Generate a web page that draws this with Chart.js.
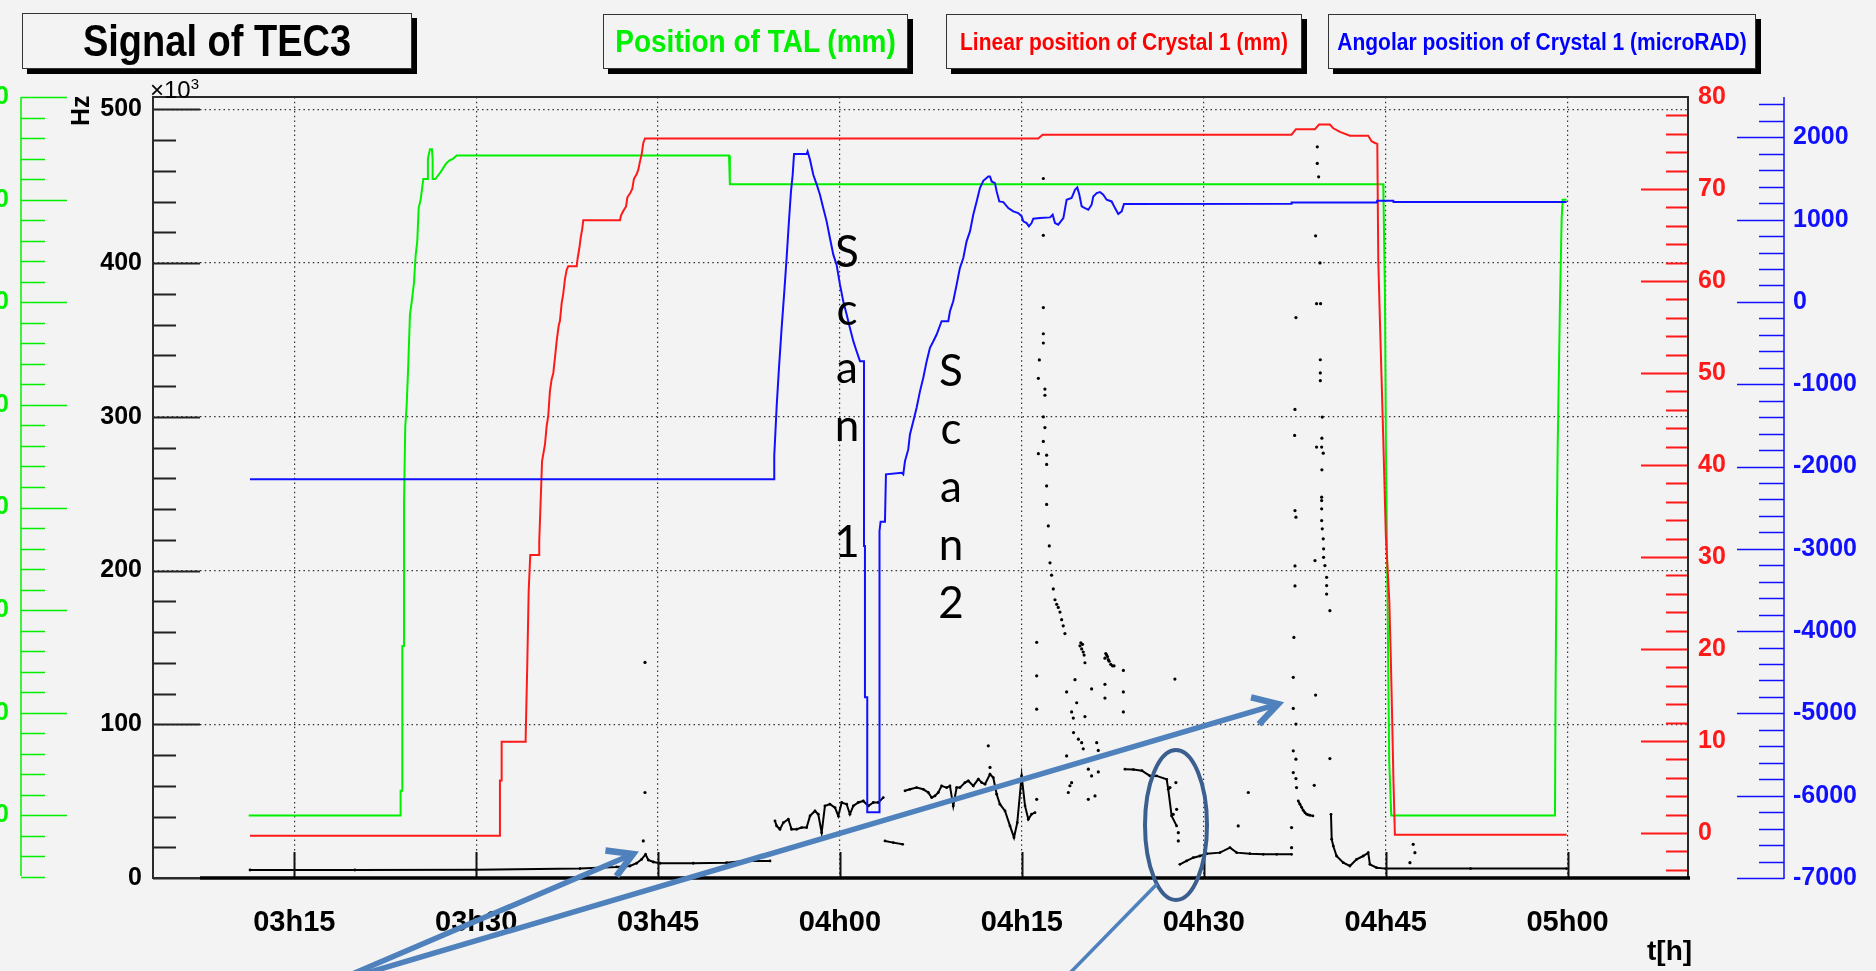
<!DOCTYPE html>
<html>
<head>
<meta charset="utf-8">
<script src="https://cdn.jsdelivr.net/npm/chart.js@4.4.1/dist/chart.umd.min.js"></script>
<style>
html, body { margin: 0; padding: 0; background: #f3f3f3; }
#wrap { position: relative; width: 1876px; height: 971px; overflow: hidden; background: #f3f3f3; font-family: 'Liberation Sans', Arial, sans-serif; }
#c { position: absolute; left: -20px; top: 0; }
.box { position: absolute; border: 1px solid #333; background: #f3f3f3; box-shadow: 5px 5px 0 #000; display: flex; align-items: center; justify-content: center; font-weight: bold; white-space: nowrap; }
.box span { display: inline-block; transform: scaleY(1.15); }
.lbl { position: absolute; white-space: nowrap; }
.scan { position: absolute; font-family: Lato, 'Open Sans', sans-serif; font-size: 44px; line-height: 58px; text-align: center; width: 40px; color: #000; }
svg { position: absolute; left: 0; top: 0; }
</style>
</head>
<body>
<div id="wrap">
  <canvas id="c" width="1896" height="971" style="width:1896px;height:971px"></canvas>

  <div class="box" style="left:22px;top:13px;width:388px;height:54px;font-size:38px;color:#000;"><span>Signal of TEC3</span></div>
  <div class="box" style="left:603px;top:14px;width:303px;height:53px;font-size:28px;color:#00f000;"><span>Position of TAL (mm)</span></div>
  <div class="box" style="left:946px;top:14px;width:354px;height:53px;font-size:21px;color:#ff0000;"><span>Linear position of Crystal 1 (mm)</span></div>
  <div class="box" style="left:1328px;top:14px;width:426px;height:53px;font-size:21px;color:#0000ff;"><span>Angolar position of Crystal 1 (microRAD)</span></div>

  <div class="lbl" style="left:150px;top:72px;font-size:24px;line-height:24px;">&times;10<sup style="font-size:15px;">3</sup></div>
  <div class="lbl" style="left:64px;top:98px;font-size:25px;font-weight:bold;transform:rotate(-90deg);transform-origin:15px 13px;">Hz</div>
  <div class="lbl" style="left:1647px;top:935px;font-size:28px;font-weight:bold;">t[h]</div>

  <div class="scan" style="left:827px;top:221px;">S<br>c<br>a<br>n<br>&nbsp;<br>1</div>
  <div class="scan" style="left:931px;top:340px;">S<br>c<br>a<br>n<br>2</div>

  <svg width="1876" height="971" viewBox="0 0 1876 971">
    <defs>
      <marker id="head" markerUnits="userSpaceOnUse" markerWidth="44" markerHeight="44" refX="30" refY="22" orient="auto">
        <path d="M6,8 L30,22 L6,36" fill="none" stroke="#4f81bd" stroke-width="6.5" stroke-linejoin="miter"/>
      </marker>
    </defs>
    <line x1="350" y1="975" x2="633" y2="854" stroke="#4f81bd" stroke-width="5.5" marker-end="url(#head)"/>
    <line x1="360" y1="975" x2="1278" y2="704" stroke="#4f81bd" stroke-width="5.5" marker-end="url(#head)"/>
    <ellipse cx="1176" cy="825" rx="31" ry="75" fill="none" stroke="#3b5f8f" stroke-width="4"/>
    <line x1="1068" y1="975" x2="1157" y2="884" stroke="#4f81bd" stroke-width="3.5"/>
  </svg>
</div>

<script>
// time axis: minutes after 03h00
const xTickValues = [15, 30, 45, 60, 75, 90, 105, 120];
const xTickLabels = ['03h15', '03h30', '03h45', '04h00', '04h15', '04h30', '04h45', '05h00'];
const hzTicks = [0, 100, 200, 300, 400, 500];
const talTicks = [0, 10, 20, 30, 40, 50, 60, 70];
const linTicks = [0, 10, 20, 30, 40, 50, 60, 70, 80];
const angTicks = [-7000, -6000, -5000, -4000, -3000, -2000, -1000, 0, 1000, 2000];

// Position of TAL (mm)
const talTime = [11.24, 23.77, 23.77, 23.91, 23.91, 24.05, 24.05, 24.15, 24.27, 24.40, 24.54, 24.68, 24.87, 25.01, 25.14, 25.26, 25.42, 25.64, 26.02, 26.02, 26.19, 26.35, 26.41, 26.41, 26.63, 26.96, 27.24, 27.51, 27.78, 28.11, 28.39, 50.85, 50.92, 104.80, 104.82, 104.94, 105.02, 105.16, 105.29, 105.46, 118.96, 119.01, 119.10, 119.18, 119.37, 119.51, 119.59, 119.92];
const talPos = [0, 0, 2.4, 2.4, 16.5, 16.5, 30.5, 37.8, 40.0, 43.9, 48.8, 50.0, 51.9, 54.6, 55.9, 59.2, 60.0, 62.0, 62.0, 64.0, 64.9, 64.9, 64.0, 62.0, 62.0, 62.5, 63.0, 63.5, 63.8, 64.0, 64.3, 64.3, 61.5, 61.5, 60.1, 50.8, 35.6, 20.5, 5.3, 0, 0, 12.2, 26.4, 35.6, 49.7, 58.1, 60.0, 60.0];

// Linear position of Crystal 1 (mm)
const linTime = [11.35, 31.96, 31.96, 32.10, 32.10, 34.08, 34.08, 34.21, 34.33, 34.46, 35.20, 35.20, 35.34, 35.43, 35.67, 35.81, 35.94, 36.08, 36.22, 36.36, 36.50, 36.64, 36.80, 36.91, 37.05, 37.18, 37.32, 37.46, 37.59, 38.29, 38.37, 38.50, 38.62, 38.75, 38.83, 41.86, 41.94, 42.13, 42.36, 42.47, 42.68, 42.87, 43.01, 43.23, 43.37, 43.51, 43.65, 43.78, 43.92, 76.35, 76.71, 97.24, 97.60, 99.17, 99.50, 100.40, 100.68, 101.23, 102.05, 103.56, 103.84, 104.11, 104.31, 104.39, 104.53, 104.66, 104.80, 105.02, 105.30, 105.43, 105.54, 105.63, 105.76, 119.92];
const linPos = [-0.3, -0.3, 5.7, 5.7, 9.9, 9.9, 10.3, 18.1, 26.3, 30.2, 30.2, 31.7, 36.9, 40.4, 42.2, 44.2, 45.3, 48.0, 49.3, 50.0, 51.7, 53.5, 55.1, 55.7, 57.6, 58.6, 60.2, 61.2, 61.6, 61.6, 62.5, 63.5, 64.7, 65.7, 66.6, 66.6, 67.1, 67.6, 68.1, 69.1, 69.5, 70.0, 71.1, 71.6, 72.1, 73.0, 73.8, 75.0, 75.5, 75.5, 75.9, 75.9, 76.5, 76.5, 77.0, 77.0, 76.6, 76.2, 75.8, 75.8, 75.2, 75.0, 74.9, 62.2, 55.5, 49.5, 42.9, 32.1, 25.2, 18.6, 12.1, 6.3, -0.2, -0.2];

// Angolar position of Crystal 1 (microRAD)
const angTime = [11.35, 54.58, 54.58, 54.78, 54.97, 55.19, 55.41, 55.60, 55.79, 55.96, 56.10, 56.21, 57.25, 57.33, 57.53, 57.80, 58.07, 58.35, 58.62, 58.90, 59.17, 59.45, 59.72, 60.00, 60.27, 60.55, 60.82, 61.10, 61.37, 61.65, 61.98, 61.98, 62.06, 62.06, 62.25, 62.25, 63.22, 63.22, 63.30, 63.35, 63.71, 63.79, 65.09, 65.22, 65.36, 65.63, 65.77, 66.05, 66.32, 66.60, 66.87, 67.15, 67.42, 67.70, 67.97, 68.38, 68.93, 69.07, 69.34, 69.62, 69.89, 70.17, 70.44, 70.72, 70.99, 71.27, 71.54, 71.82, 72.23, 72.37, 72.51, 72.78, 72.92, 73.14, 73.47, 73.88, 74.29, 74.70, 74.98, 75.12, 75.39, 75.58, 75.80, 75.94, 76.49, 77.32, 77.54, 77.73, 78.00, 78.42, 78.69, 79.10, 79.38, 79.57, 79.74, 79.93, 80.20, 80.48, 80.75, 80.89, 81.17, 81.44, 81.71, 81.99, 82.40, 82.68, 82.95, 83.23, 83.42, 97.24, 97.24, 104.26, 104.30, 105.63, 105.65, 119.92];
const angPos = [-2156, -2156, -1873, -1266, -801, -316, 129, 534, 979, 1343, 1545, 1796, 1796, 1828, 1727, 1545, 1432, 1302, 1140, 979, 776, 574, 453, 210, 8, -154, -316, -477, -599, -720, -720, -2965, -2965, -4805, -4805, -6201, -6201, -5695, -2783, -2670, -2670, -2095, -2075, -2095, -1934, -1792, -1610, -1448, -1286, -1084, -922, -720, -558, -477, -396, -235, -235, -113, 8, 210, 413, 534, 736, 857, 1060, 1221, 1383, 1472, 1525, 1525, 1464, 1444, 1343, 1221, 1213, 1140, 1100, 1080, 1039, 979, 958, 918, 958, 1011, 1019, 1027, 1060, 958, 938, 1019, 1242, 1262, 1363, 1391, 1302, 1161, 1140, 1120, 1181, 1282, 1322, 1335, 1302, 1242, 1221, 1140, 1068, 1100, 1189, 1193, 1209, 1209, 1229, 1229, 1214, 1214];

// Signal of TEC3 (kHz): dense runs (null = gap)
const tecTime = [11.35, 20, 30, 38.56, 41.58, 42.68, 43.23, 43.64, 43.97, 44.19, 44.61, 45.16, 47.9, 50.65, 52.03, 54.23, null,
  54.64, 54.78, 55.05, 55.33, 55.74, 56.01, 56.43, 56.84, 57.25, 57.53, 57.94, 58.21, 58.49, 58.76, 59.17, 59.59, 59.86, 60.14, 60.55, 60.82, 61.10, 61.51, 61.92, 62.34, 62.75, 63.16, 63.57, null,
  63.71, 64.40, 65.17, null,
  65.36, 65.77, 66.32, 66.87, 67.28, 67.56, 67.83, 68.11, 68.38, 68.80, 69.07, 69.34, 69.62, 69.89, 70.31, 70.58, 70.99, 71.41, 71.68, 71.96, 72.37, 72.64, 72.92, 73.19, 73.61, 74.02, 74.35, 74.62, 74.98, 75.26, 75.53, 75.80, 76.08, null,
  83.50, 84.20, 84.90, 85.56, 86.11, 86.94, 87.07, 87.35, 87.76, null,
  88.03, 88.58, 89.13, 89.68, 90.23, 91.33, 92.16, 92.71, 93.81, 94.91, 96.01, 97.24, null,
  97.79, 97.93, 98.07, 98.20, 98.34, 98.48, 98.62, 98.75, 99.00, null,
  100.49, 100.55, 100.68, 100.95, 101.50, 102.05, 102.60, 103.15, 103.56, 103.70, 104.25, 105.00, 112.00, 119.92];
const tecRate = [5.2, 5.2, 5.3, 6.1, 7.2, 7.8, 9.6, 12.1, 15.4, 11.7, 10.4, 9.6, 9.6, 10.0, 11.1, 11.1, null,
  37.1, 33.9, 31.7, 36.0, 38.2, 31.7, 31.7, 32.8, 32.8, 40.4, 43.6, 41.5, 29.5, 46.9, 48.0, 45.8, 40.4, 49.1, 48.0, 41.5, 46.9, 49.1, 50.1, 46.9, 49.1, 49.1, 52.3, null,
  24.1, 23.0, 21.9, null,
  56.7, 57.7, 58.8, 57.7, 55.6, 52.3, 53.4, 55.6, 59.9, 58.8, 59.9, 46.9, 58.8, 58.8, 62.1, 63.2, 59.9, 64.3, 62.1, 61.0, 67.5, 65.3, 54.5, 48.0, 43.6, 33.9, 26.3, 36.0, 66.4, 46.9, 38.2, 41.5, 42.5, null,
  70.8, 70.5, 69.8, 66.4, 66.4, 64.2, 57.7, 40.4, 33.9, null,
  8.9, 11.1, 13.2, 14.3, 15.8, 16.5, 19.7, 16.5, 15.8, 15.4, 15.4, 15.4, null,
  50.1, 48.0, 46.0, 44.0, 42.5, 41.5, 41.0, 40.8, 40.4, null,
  41.4, 25.2, 20.8, 14.3, 10.0, 7.8, 12.1, 14.3, 16.5, 8.9, 6.7, 6.1, 6.1, 6.1];

// Signal of TEC3 (kHz): isolated readings
const tecDotTime = [43.92, 43.92, 43.78, 72.23, 72.37, 76.22, 76.22, 76.22, 76.22,
  76.77, 76.77, 76.77, 76.77, 76.77, 76.44, 76.36, 76.90, 76.90, 76.77, 76.90, 76.77, 76.36, 77.04, 77.04, 77.04, 77.04, 77.18, 77.26, 77.32, 77.45, 77.59, 77.73, 77.87, 78.00, 78.14, 78.28, 78.41, 78.55,
  79.79, 79.86, 79.93, 80.00, 80.06, 80.13, 80.20, 81.85, 81.92, 81.99, 82.06, 82.13, 82.20, 82.33, 82.47, 82.60,
  78.69, 79.10, 79.24, 79.52, 79.38, 80.20, 80.75, 79.26, 79.66, 79.93, 80.06, 78.69, 80.48, 80.75, 78.83, 78.96, 79.10, 80.48, 81.03, 81.85, 81.85, 83.37, 83.37, 83.37, 81.17, 81.30, 81.30,
  87.62, 87.21, 87.48, 87.70, 87.76, 87.90, 87.90, 92.84, 93.67,
  97.52, 97.60, 97.52, 97.52, 97.43, 97.38, 97.38, 97.60, 97.38, 97.60, 97.38, 97.60, 97.65, 97.24, 97.24, 97.60, 97.52, 97.49,
  99.36, 99.36, 99.47, 99.22, 99.58, 99.30, 99.63, 99.61, 99.61, 99.61, 99.77, 99.74, 99.30, 99.72, 99.85, 99.74, 99.72, 99.72, 99.72, 99.72, 99.77, 99.85, 99.88, 99.88, 99.99, 100.13, 100.13, 100.13, 100.40, 99.17, 99.22, 99.11, 100.40,
  107.00, 107.27, 107.41];
const tecDotRate = [140.2, 55.6, 24.1, 86.0, 71.9, 153.3, 131.5, 109.8, 51.2,
  455, 418, 371, 354, 348, 337, 325, 318, 314, 300, 293, 284, 276, 275, 269, 255, 243, 229, 216, 205, 197, 188, 181, 178, 176, 173, 168, 164, 159,
  151, 153, 149, 152, 147, 145, 140, 143, 146, 145, 144, 142, 141, 139, 138, 138,
  121, 108, 104, 114, 129, 105, 123, 94.6, 90.3, 88, 84, 79.4, 70.8, 66.4, 55.6, 60, 62, 51.2, 53.4, 126, 117, 121, 108, 135, 88, 83, 69,
  129.4, 58.8, 41.4, 62.1, 44.7, 29.5, 24.1, 33.9, 55.6,
  239, 234.7, 203, 190, 156.5, 130.5, 110.3, 100.1, 82.7, 77.3, 68.6, 64.7, 58.8, 32.8, 19.7, 364.5, 304.8, 287.9,
  475.6, 464.8, 456.1, 417.7, 400.1, 373.6, 373.6, 337.1, 328.5, 323.5, 299.8, 286.1, 280.3, 280.3, 276.3, 265.5, 247.7, 245.5, 240.1, 232.5, 227.1, 220.6, 214.1, 208.6, 203.2, 195.6, 190.2, 184.7, 173.9, 206.5, 119, 60.3, 77.7,
  10, 21.9, 16.5];

function pts(ts, vs) {
    return ts.map((t, i) => ({ x: t, y: vs[i] }));
}

const FONT = 'Liberation Sans';
const GREEN = '#00f000';
const RED = '#ff1a1a';
const BLUE = '#1010ff';

function setTicks(values) {
    return scale => { scale.ticks = values.map(v => ({ value: v })); };
}
function fixWidth(w) {
    return scale => { scale.width = w; };
}

// ROOT style tick marks, axis lines and frame
const rootAxes = {
    id: 'rootAxes',
    afterDatasetsDraw(chart) {
        const { ctx, chartArea: a, scales: s } = chart;
        ctx.save();
        const marks = (scale, from, to, step, major, x0, dir, longLen, shortLen, color, width) => {
            ctx.strokeStyle = color;
            ctx.lineWidth = width;
            ctx.beginPath();
            for (let v = from; v <= to + 1e-6; v += step) {
                const y = Math.round(scale.getPixelForValue(v)) + 0.5;
                const len = Math.abs(v % major) < 1e-6 ? longLen : shortLen;
                ctx.moveTo(x0, y);
                ctx.lineTo(x0 + dir * len, y);
            }
            ctx.stroke();
        };
        // left black axis, ticks inside the frame
        marks(s.yHz, 0, 500, 20, 100, a.left, 1, 47, 23, '#222', 2);
        // red axis, ticks inside the frame on the right
        marks(s.yRed, -4, 78, 2, 10, a.right, -1, 47, 22, RED, 2);
        // green axis on the far left
        const gx = s.yGreen.left + 41;
        marks(s.yGreen, -6, 70, 2, 10, gx, 1, 46, 24, GREEN, 1.5);
        ctx.strokeStyle = GREEN; ctx.lineWidth = 1.5;
        ctx.beginPath(); ctx.moveTo(gx, a.top); ctx.lineTo(gx, a.bottom - 2); ctx.stroke();
        // blue axis on the far right
        const bx = s.yBlue.left + 41;
        marks(s.yBlue, -7000, 2400, 200, 1000, bx, -1, 47, 25, BLUE, 1.5);
        ctx.strokeStyle = BLUE; ctx.lineWidth = 1.5;
        ctx.beginPath(); ctx.moveTo(bx, a.top); ctx.lineTo(bx, a.bottom + 1); ctx.stroke();
        // time axis ticks
        ctx.strokeStyle = '#111'; ctx.lineWidth = 2;
        ctx.beginPath();
        xTickValues.forEach(v => {
            const x = Math.round(s.x.getPixelForValue(v)) + 0.5;
            ctx.moveTo(x, a.bottom); ctx.lineTo(x, a.bottom - 26);
        });
        ctx.stroke();
        // frame
        ctx.strokeStyle = '#2a2a2a'; ctx.lineWidth = 2;
        ctx.strokeRect(a.left, a.top, a.right - a.left, a.bottom - a.top);
        ctx.strokeStyle = '#000'; ctx.lineWidth = 3.5;
        ctx.beginPath(); ctx.moveTo(a.left + 47, a.bottom); ctx.lineTo(a.right + 2, a.bottom); ctx.stroke();
        ctx.restore();
    }
};

const lineStyle = { pointRadius: 0, borderWidth: 2, fill: false, tension: 0 };

new Chart(document.getElementById('c').getContext('2d'), {
    type: 'line',
    data: {
        datasets: [
            Object.assign({ label: 'Angolar position of Crystal 1 (microRAD)', data: pts(angTime, angPos), borderColor: BLUE, yAxisID: 'yBlue' }, lineStyle),
            Object.assign({ label: 'Linear position of Crystal 1 (mm)', data: pts(linTime, linPos), borderColor: RED, yAxisID: 'yRed' }, lineStyle),
            Object.assign({ label: 'Position of TAL (mm)', data: pts(talTime, talPos), borderColor: GREEN, yAxisID: 'yGreen' }, lineStyle),
            {
                label: 'Signal of TEC3', data: pts(tecTime, tecRate), yAxisID: 'yHz',
                borderColor: '#000', borderWidth: 2, pointRadius: 1.4, pointBackgroundColor: '#000',
                pointBorderWidth: 0, spanGaps: false, tension: 0
            },
            {
                label: 'Signal of TEC3 (single readings)', data: pts(tecDotTime, tecDotRate), yAxisID: 'yHz',
                showLine: false, pointRadius: 1.6, pointBackgroundColor: '#000', pointBorderWidth: 0
            }
        ]
    },
    options: {
        responsive: false,
        devicePixelRatio: 1,
        animation: false,
        layout: { padding: { top: 97, left: 0, right: 0, bottom: 0 } },
        plugins: { legend: { display: false }, tooltip: { enabled: false }, title: { display: false } },
        scales: {
            x: {
                type: 'linear', position: 'bottom', min: 3.35, max: 129.93,
                afterBuildTicks: setTicks(xTickValues),
                afterFit: scale => { scale.height = 93; },
                grid: { color: '#333', lineWidth: 1.2, drawTicks: false },
                border: { display: false, dash: [1.5, 3.2] },
                ticks: {
                    autoSkip: false, maxRotation: 0, padding: 28, color: '#000',
                    font: { family: FONT, size: 29, weight: 'bold' },
                    callback: (v, i) => xTickLabels[i]
                }
            },
            yHz: {
                type: 'linear', position: 'left', weight: 0, min: 0, max: 508,
                afterBuildTicks: setTicks(hzTicks),
                afterFit: fixWidth(91),
                grid: { color: '#333', lineWidth: 1.2, drawTicks: false },
                border: { display: false, dash: [1.5, 3.2] },
                ticks: { padding: 11, color: '#000', font: { family: FONT, size: 25, weight: 'bold' }, callback: v => String(v) }
            },
            yGreen: {
                type: 'linear', position: 'left', weight: 1, min: -6.1, max: 70,
                afterBuildTicks: setTicks(talTicks),
                afterFit: fixWidth(82),
                grid: { display: false, drawTicks: false },
                border: { display: false },
                ticks: { padding: 53, color: GREEN, font: { family: FONT, size: 25, weight: 'bold' }, callback: v => String(v) }
            },
            yRed: {
                type: 'linear', position: 'right', weight: 0, min: -4.9, max: 80,
                afterBuildTicks: setTicks(linTicks),
                afterFit: fixWidth(55),
                grid: { display: false, drawTicks: false },
                border: { display: false },
                ticks: { padding: 10, color: RED, font: { family: FONT, size: 25, weight: 'bold' }, callback: v => String(v) }
            },
            yBlue: {
                type: 'linear', position: 'right', weight: 1, min: -7000, max: 2490,
                afterBuildTicks: setTicks(angTicks),
                afterFit: fixWidth(133),
                grid: { display: false, drawTicks: false },
                border: { display: false },
                ticks: { padding: 50, color: BLUE, font: { family: FONT, size: 25, weight: 'bold' }, callback: v => String(v) }
            }
        }
    },
    plugins: [rootAxes]
});
</script>
</body>
</html>
